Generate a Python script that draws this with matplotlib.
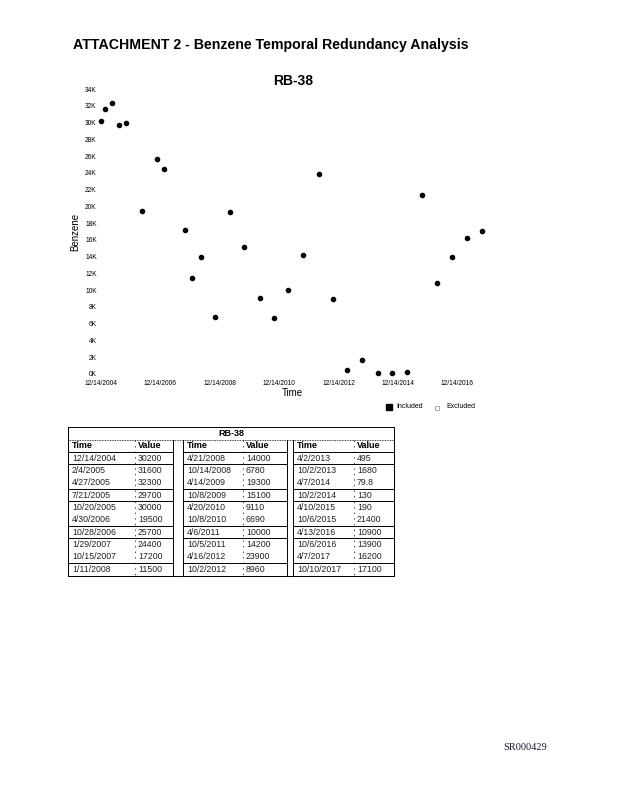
import matplotlib
matplotlib.use('Agg')
import matplotlib.pyplot as plt
from datetime import datetime

plt.rcParams['font.family'] = ['Liberation Sans', 'DejaVu Sans']

# sample dates and benzene values (RB-38)
dates = ["12/14/2004", "2/4/2005", "4/27/2005", "7/21/2005", "10/20/2005",
         "4/30/2006", "10/28/2006", "1/29/2007", "10/15/2007", "1/11/2008",
         "4/21/2008", "10/14/2008", "4/14/2009", "10/8/2009", "4/20/2010",
         "10/8/2010", "4/6/2011", "10/5/2011", "4/16/2012", "10/2/2012",
         "4/2/2013", "10/2/2013", "4/7/2014", "10/2/2014", "4/10/2015",
         "10/6/2015", "4/13/2016", "10/6/2016", "4/7/2017", "10/10/2017"]
values = [30200, 31600, 32300, 29700, 30000, 19500, 25700, 24400, 17200, 11500,
          14000, 6780, 19300, 15100, 9110, 6690, 10000, 14200, 23900, 8960,
          495, 1680, 79.8, 130, 190, 21400, 10900, 13900, 16200, 17100]
value_text = ["30200", "31600", "32300", "29700", "30000", "19500", "25700", "24400", "17200", "11500",
              "14000", "6780", "19300", "15100", "9110", "6690", "10000", "14200", "23900", "8960",
              "495", "1680", "79.8", "130", "190", "21400", "10900", "13900", "16200", "17100"]

xtick_dates = ["12/14/2004", "12/14/2006", "12/14/2008", "12/14/2010",
               "12/14/2012", "12/14/2014", "12/14/2016"]
ytick_vals = list(range(0, 34001, 2000))
ytick_labels = ["%dK" % (v // 1000) for v in ytick_vals]

W, H = 618, 800

def d(s):
    return datetime.strptime(s, "%m/%d/%Y")

fig = plt.figure(figsize=(W / 100, H / 100), dpi=100)

# full page overlay in pixel coords
page = fig.add_axes([0, 0, 1, 1])
page.set_xlim(0, W)
page.set_ylim(H, 0)
page.axis('off')

page.text(73, 45, "ATTACHMENT 2 - Benzene Temporal Redundancy Analysis",
          fontsize=10.2, fontweight='bold', va='center', ha='left')
page.text(525, 747, "SR000429", family='Liberation Serif', fontsize=7.5,
          va='center', ha='center', color='#1a1a3a')

# chart
ax_l, ax_r, ax_t, ax_b = 101, 486, 89, 374
ax = fig.add_axes([ax_l / W, 1 - ax_b / H, (ax_r - ax_l) / W, (ax_b - ax_t) / H])
x = [d(s) for s in dates]
ax.plot(x, values, 'o', color='black', ms=3.0, mec='black', clip_on=False)
ax.set_xlim(d("12/14/2004"), datetime(2017, 12, 1))
ax.set_ylim(0, 34000)
ax.set_xticks([d(s) for s in xtick_dates])
ax.set_xticklabels(xtick_dates, fontsize=4.8)
ax.set_yticks(ytick_vals)
ax.set_yticklabels(ytick_labels, fontsize=4.8)
ax.tick_params(length=0)
ax.tick_params(axis='x', pad=4.5)
ax.tick_params(axis='y', pad=3)
for s in ax.spines.values():
    s.set_visible(False)

page.text((ax_l + ax_r) / 2, 81, "RB-38", fontsize=10, fontweight='bold',
          ha='center', va='center')
page.text(292, 393, "Time", fontsize=7, ha='center', va='center')
page.text(75, 232, "Benzene", fontsize=7, ha='center', va='center', rotation=90)

# legend
page.plot([389], [407], 's', color='black', ms=4.5)
page.text(396, 407, "Included", fontsize=5, va='center', ha='left')
page.plot([437], [408], 's', mfc='none', mec='#888888', ms=3.5, mew=0.5, ls='none')
page.text(446, 407, "Excluded", fontsize=5, va='center', ha='left')

# table
t_left, t_right = 68, 394
t_top = 427
groups = [(68, 135, 173), (183, 243, 287), (293, 354, 394)]
row_h = 12.35
head_line = 439.5
col_line = 452
t_bot = col_line + 10 * row_h
lw = 0.7

page.plot([t_left, t_right, t_right, t_left, t_left],
          [t_top, t_top, t_bot, t_bot, t_top], color='black', lw=lw)
page.plot([t_left, t_right], [head_line, head_line], color='black', lw=0.6, ls=(0, (1, 1)))
page.text((t_left + t_right) / 2, 433.5, "RB-38", fontsize=6.5, fontweight='bold',
          ha='center', va='center')

sep_rows = [0, 2, 3, 5, 6, 8, 9]
for gi, (gl, gm, gr) in enumerate(groups):
    page.plot([gl, gl], [head_line, t_bot], color='black', lw=lw)
    page.plot([gr, gr], [head_line, t_bot], color='black', lw=lw)
    page.plot([gm, gm], [head_line, t_bot], color='black', lw=0.5, ls=(0, (2, 6)))
    page.plot([gl, gr], [col_line, col_line], color='black', lw=lw)
    for r in sep_rows:
        yy = col_line + (r + 1) * row_h
        page.plot([gl, gr], [yy, yy], color='black', lw=lw)
    page.text(gl + 4, 446, "Time", fontsize=6.5, fontweight='bold', va='center')
    page.text(gm + 3, 446, "Value", fontsize=6.5, fontweight='bold', va='center')
    for r in range(10):
        k = gi * 10 + r
        yy = col_line + (r + 0.5) * row_h
        page.text(gl + 4, yy, dates[k], fontsize=6.3, va='center', color='#222222')
        page.text(gm + 3, yy, value_text[k], fontsize=6.3, va='center', color='#222222')

fig.savefig("out.png", dpi=100)
